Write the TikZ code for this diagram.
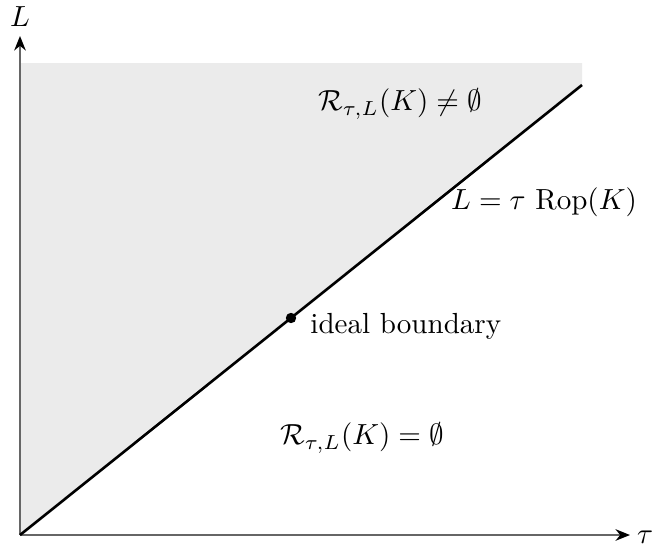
\documentclass[tikz,border=0pt]{standalone}
\usetikzlibrary{arrows.meta}
\begin{document}
\begin{tikzpicture}[x=0.344pt,y=-0.344pt,
  axis/.style={draw=black!60,line width=0.5pt,-{Stealth[length=5pt,width=4pt,black]}},
  bound/.style={draw=black,line width=0.9pt},
  lab/.style={inner sep=1pt}]
\useasboundingbox (0,0) rectangle (653,546);
\coordinate (O) at (20,535);
\coordinate (E) at (582,85);
\coordinate (TR) at (582,63);
\coordinate (TL) at (20,63);
\coordinate (X) at (630,535);
\coordinate (Y) at (20,36);
\fill[black!8] (O) -- (E) -- (TR) -- (TL) -- cycle;
\draw[axis] (O) -- (X);
\draw[axis] (O) -- (Y);
\node[lab] (tau) at (645,537) {$\tau$};
\node[lab] (Ll) at (20,17) {$L$};
\draw[bound] (O) -- (E);
\fill (291,318) circle (5.2);
\node[lab,anchor=west] (ib) at (307,326) {ideal boundary};
\node[lab] (r1) at (400,104) {$\mathcal{R}_{\tau,L}(K)\neq\emptyset$};
\node[lab] (r2) at (544,202) {$L=\tau\ \mathrm{Rop}(K)$};
\node[lab] (r3) at (362,438) {$\mathcal{R}_{\tau,L}(K)=\emptyset$};
\end{tikzpicture}
\end{document}
